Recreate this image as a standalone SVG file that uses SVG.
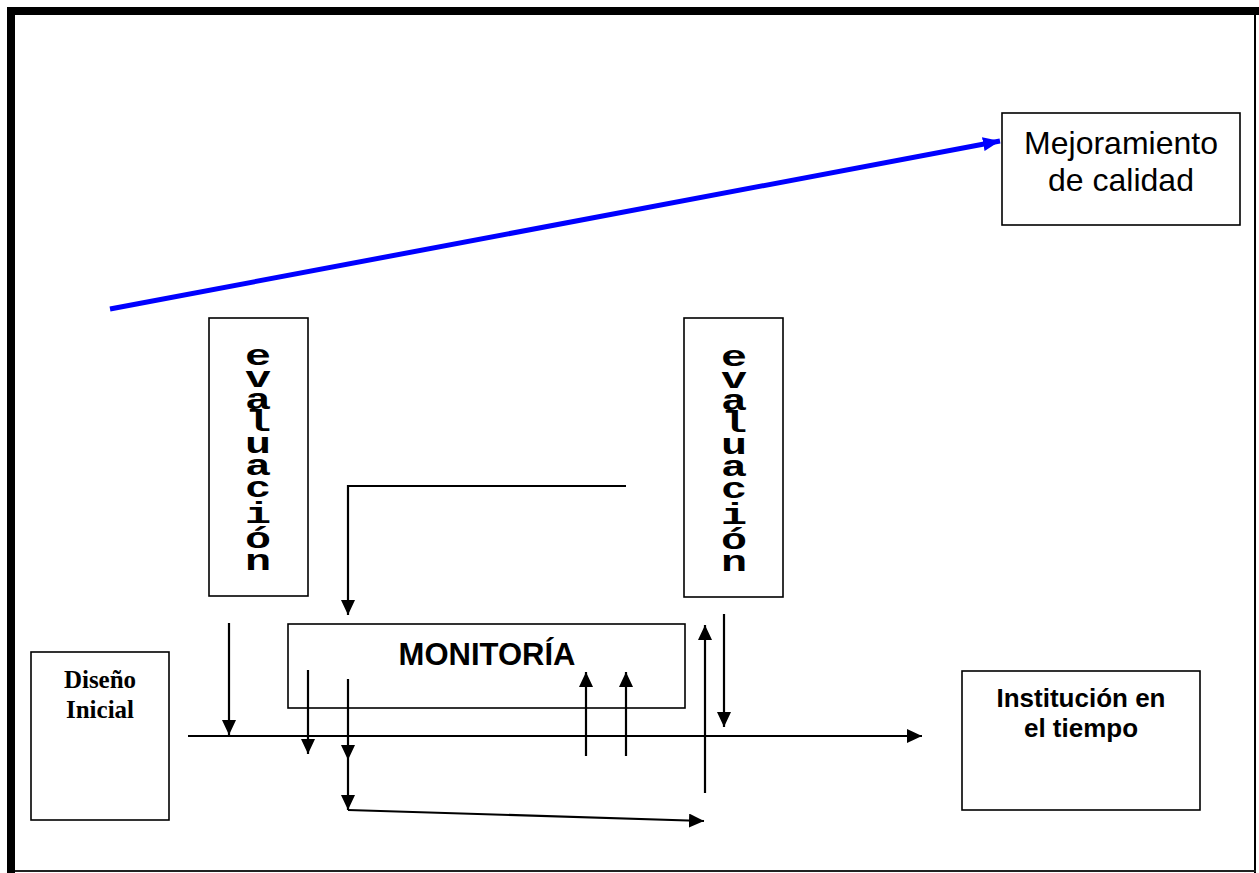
<svg xmlns="http://www.w3.org/2000/svg" width="1259" height="873" viewBox="0 0 1259 873">
  <style>
    .box { fill: #ffffff; stroke: #000000; stroke-width: 1.6; }
    .conn { fill: none; stroke: #000000; stroke-width: 2.2; }
    .blue { fill: none; stroke: #0000ff; stroke-width: 5; }
    .arial { font-family: "Liberation Sans", Arial, sans-serif; fill: #000; }
    .times { font-family: "Liberation Serif", "Times New Roman", serif; fill: #000; font-weight: bold; }
    .mono { font-family: "Liberation Mono", "Courier New", monospace; fill: #000; font-weight: bold; font-size: 29px; text-anchor: middle; }
  </style>
  <defs>
    <marker id="ah" markerUnits="userSpaceOnUse" markerWidth="16" markerHeight="14" refX="15" refY="7" orient="auto">
      <path d="M0,0 L15,7 L0,14 Z" fill="#000000"/>
    </marker>
    <marker id="ahBlue" markerUnits="userSpaceOnUse" markerWidth="18" markerHeight="14" refX="17" refY="7" orient="auto">
      <path d="M0,0 L17,7 L0,14 Z" fill="#0000ff"/>
    </marker>
  </defs>

  <rect width="1259" height="873" fill="#ffffff"/>

  <!-- page frame: heavy top/left, thin right/bottom -->
  <g id="frame">
    <rect x="7" y="7" width="1252" height="8" fill="#000000"/>
    <rect x="7" y="7" width="8" height="866" fill="#000000"/>
    <rect x="1254" y="15" width="2" height="858" fill="#000000"/>
    <rect x="15" y="870" width="1241" height="2" fill="#222222"/>
  </g>

  <g id="connectors">
    <!-- quality improvement trend -->
    <path class="blue" d="M110,309 L1000,141" marker-end="url(#ahBlue)"/>
    <!-- time axis -->
    <path class="conn" d="M188,736 L922,736" marker-end="url(#ah)"/>
    <!-- evaluation (left) into the axis -->
    <path class="conn" d="M229,623 L229,735" marker-end="url(#ah)"/>
    <!-- feedback from the right into monitoring -->
    <path class="conn" d="M626,486 L348,486 L348,615" marker-end="url(#ah)"/>
    <!-- monitoring outputs -->
    <path class="conn" d="M308,670 L308,754" marker-end="url(#ah)"/>
    <path class="conn" d="M348,679 L348,760" marker-end="url(#ah)"/>
    <path class="conn" d="M348,760 L348,810" marker-end="url(#ah)"/>
    <path class="conn" d="M348,810 L704,821" marker-end="url(#ah)"/>
    <!-- inputs rising into monitoring -->
    <path class="conn" d="M586,756 L586,672" marker-end="url(#ah)"/>
    <path class="conn" d="M626,756 L626,672" marker-end="url(#ah)"/>
    <path class="conn" d="M705,793 L705,625" marker-end="url(#ah)"/>
    <!-- evaluation (right) into the axis -->
    <path class="conn" d="M724,614 L724,727" marker-end="url(#ah)"/>
  </g>

  <g id="mejoramiento">
    <rect class="box" x="1002" y="113" width="238" height="112"/>
    <text class="arial" font-size="32" text-anchor="middle" x="1121" y="154">Mejoramiento</text>
    <text class="arial" font-size="32" text-anchor="middle" x="1121" y="191">de calidad</text>
  </g>

  <g id="evaluacion-1">
    <rect class="box" x="209" y="318" width="99" height="278"/>
    <!-- letters stacked one per line, widened like the typewriter face -->
    <g class="mono" transform="translate(258,0) scale(1.5,1)">
      <text x="0" y="365">e</text>
      <text x="0" y="387">v</text>
      <text x="0" y="409">a</text>
      <text x="0" y="431">l</text>
      <text x="0" y="453">u</text>
      <text x="0" y="475">a</text>
      <text x="0" y="497">c</text>
      <text x="0" y="523">i</text>
      <text x="0" y="548">ó</text>
      <text x="0" y="570">n</text>
    </g>
  </g>

  <g id="evaluacion-2">
    <rect class="box" x="684" y="318" width="99" height="279"/>
    <g class="mono" transform="translate(734,0) scale(1.5,1)">
      <text x="0" y="366">e</text>
      <text x="0" y="388">v</text>
      <text x="0" y="410">a</text>
      <text x="0" y="432">l</text>
      <text x="0" y="454">u</text>
      <text x="0" y="476">a</text>
      <text x="0" y="498">c</text>
      <text x="0" y="524">i</text>
      <text x="0" y="549">ó</text>
      <text x="0" y="571">n</text>
    </g>
  </g>

  <g id="monitoria">
    <rect class="box" x="288" y="624" width="397" height="84" fill-opacity="0"/>
    <text class="arial" font-size="31" font-weight="bold" text-anchor="middle" x="487" y="665">MONITORÍA</text>
  </g>

  <g id="diseno-inicial">
    <rect class="box" x="31" y="652" width="138" height="168"/>
    <text class="times" font-size="25" text-anchor="middle" x="100" y="688">Diseño</text>
    <text class="times" font-size="25" text-anchor="middle" x="100" y="718">Inicial</text>
  </g>

  <g id="institucion">
    <rect class="box" x="962" y="671" width="238" height="139"/>
    <text class="arial" font-size="26" font-weight="bold" text-anchor="middle" x="1081" y="707">Institución en</text>
    <text class="arial" font-size="26" font-weight="bold" text-anchor="middle" x="1081" y="737">el tiempo</text>
  </g>
</svg>
